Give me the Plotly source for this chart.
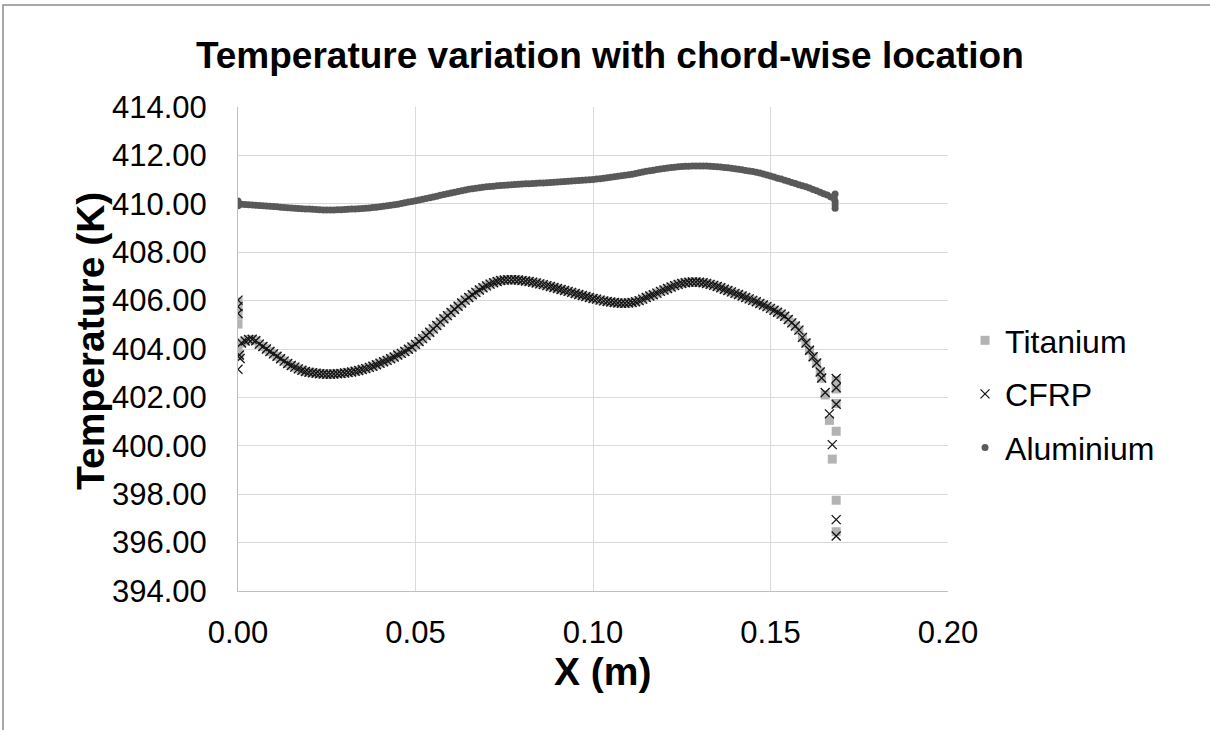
import plotly.graph_objects as go

# ---------------- data ----------------
# chord-wise positions (m)
X_GRID = [
    0.000, 0.001, 0.002, 0.003, 0.004, 0.005, 0.006, 0.007, 0.008, 0.009,
    0.010, 0.011, 0.012, 0.013, 0.014, 0.015, 0.016, 0.017, 0.018, 0.019,
    0.020, 0.021, 0.022, 0.023, 0.024, 0.025, 0.026, 0.027, 0.028, 0.029,
    0.030, 0.031, 0.032, 0.033, 0.034, 0.035, 0.036, 0.037, 0.038, 0.039,
    0.040, 0.041, 0.042, 0.043, 0.044, 0.045, 0.046, 0.047, 0.048, 0.049,
    0.050, 0.051, 0.052, 0.053, 0.054, 0.055, 0.056, 0.057, 0.058, 0.059,
    0.060, 0.061, 0.062, 0.063, 0.064, 0.065, 0.066, 0.067, 0.068, 0.069,
    0.070, 0.071, 0.072, 0.073, 0.074, 0.075, 0.076, 0.077, 0.078, 0.079,
    0.080, 0.081, 0.082, 0.083, 0.084, 0.085, 0.086, 0.087, 0.088, 0.089,
    0.090, 0.091, 0.092, 0.093, 0.094, 0.095, 0.096, 0.097, 0.098, 0.099,
    0.100, 0.101, 0.102, 0.103, 0.104, 0.105, 0.106, 0.107, 0.108, 0.109,
    0.110, 0.111, 0.112, 0.113, 0.114, 0.115, 0.116, 0.117, 0.118, 0.119,
    0.120, 0.121, 0.122, 0.123, 0.124, 0.125, 0.126, 0.127, 0.128, 0.129,
    0.130, 0.131, 0.132, 0.133, 0.134, 0.135, 0.136, 0.137, 0.138, 0.139,
    0.140, 0.141, 0.142, 0.143, 0.144, 0.145, 0.146, 0.147, 0.148, 0.149,
    0.150, 0.151, 0.152, 0.153, 0.154, 0.155, 0.156, 0.157, 0.158, 0.159,
    0.160, 0.161, 0.162, 0.163, 0.164, 0.165, 0.166, 0.167, 0.168,
]

# Titanium and CFRP surface temperatures coincide along the surface (K), x = 0.001 .. 0.164
COMPOSITE_SURFACE_T = [
    404.25, 404.33, 404.39, 404.40, 404.34, 404.20, 404.10, 404.00, 403.90, 403.80,
    403.70, 403.60, 403.50, 403.40, 403.32, 403.25, 403.18, 403.12, 403.07, 403.04,
    403.02, 403.00, 402.98, 402.97, 402.96, 402.96, 402.97, 402.98, 402.99, 403.01,
    403.03, 403.05, 403.08, 403.11, 403.15, 403.19, 403.24, 403.29, 403.35, 403.41,
    403.47, 403.53, 403.60, 403.67, 403.75, 403.82, 403.90, 403.99, 404.08, 404.19,
    404.31, 404.43, 404.56, 404.69, 404.83, 404.97, 405.11, 405.25, 405.38, 405.51,
    405.64, 405.77, 405.90, 406.02, 406.13, 406.24, 406.34, 406.44, 406.53, 406.61,
    406.68, 406.74, 406.79, 406.83, 406.85, 406.86, 406.86, 406.86, 406.85, 406.83,
    406.81, 406.79, 406.76, 406.73, 406.69, 406.66, 406.62, 406.58, 406.54, 406.50,
    406.46, 406.42, 406.38, 406.34, 406.29, 406.25, 406.21, 406.17, 406.13, 406.09,
    406.06, 406.02, 405.99, 405.96, 405.94, 405.92, 405.90, 405.89, 405.89, 405.90,
    405.92, 405.95, 406.00, 406.06, 406.13, 406.19, 406.24, 406.31, 406.38, 406.44,
    406.50, 406.56, 406.62, 406.67, 406.71, 406.74, 406.76, 406.77, 406.77, 406.76,
    406.74, 406.71, 406.67, 406.63, 406.58, 406.53, 406.47, 406.42, 406.36, 406.30,
    406.25, 406.19, 406.13, 406.07, 406.01, 405.95, 405.88, 405.82, 405.75, 405.68,
    405.60, 405.52, 405.44, 405.35, 405.22, 405.08, 404.95, 404.78, 404.48, 404.25,
    403.95, 403.68, 403.42, 403.05,
]

# leading-edge and trailing-edge points
TI_LE_X = [0.000, 0.000, 0.000, 0.000, 0.000, 0.0003]
TI_LE_T = [405.95, 405.70, 405.40, 405.03, 403.96, 403.72]
TI_TE_X = [0.1644, 0.1654, 0.1666, 0.1674, 0.1685, 0.1685, 0.1685, 0.1685, 0.1685, 0.1685]
TI_TE_T = [402.79, 402.10, 401.05, 399.45, 402.70, 402.35, 401.75, 400.60, 397.75, 396.45]

CFRP_LE_X = [0.000, 0.000, 0.000, 0.0004, 0.0006, 0.000]
CFRP_LE_T = [406.02, 405.75, 405.47, 403.75, 403.61, 403.16]
CFRP_TE_X = [0.1644, 0.1654, 0.1666, 0.1674, 0.1685, 0.1685, 0.1685, 0.1685, 0.1685]
CFRP_TE_T = [402.80, 402.20, 401.32, 400.05, 402.78, 402.40, 401.72, 396.95, 396.27]

# Aluminium surface temperatures (K), x = 0.000 .. 0.168
ALU_SURFACE_T = [
    410.00, 409.98, 409.97, 409.96, 409.95, 409.94, 409.93, 409.92, 409.91, 409.90,
    409.89, 409.88, 409.86, 409.85, 409.84, 409.83, 409.82, 409.81, 409.80, 409.79,
    409.78, 409.77, 409.76, 409.75, 409.74, 409.74, 409.74, 409.74, 409.75, 409.75,
    409.76, 409.77, 409.78, 409.79, 409.80, 409.81, 409.82, 409.83, 409.85, 409.86,
    409.88, 409.90, 409.92, 409.94, 409.96, 409.98, 410.01, 410.04, 410.07, 410.10,
    410.13, 410.16, 410.19, 410.22, 410.25, 410.28, 410.31, 410.35, 410.38, 410.42,
    410.45, 410.48, 410.51, 410.54, 410.57, 410.60, 410.62, 410.64, 410.66, 410.68,
    410.70, 410.72, 410.73, 410.75, 410.76, 410.77, 410.78, 410.79, 410.80, 410.81,
    410.82, 410.83, 410.83, 410.84, 410.85, 410.86, 410.86, 410.87, 410.88, 410.89,
    410.90, 410.91, 410.92, 410.93, 410.94, 410.95, 410.96, 410.97, 410.98, 410.99,
    411.00, 411.02, 411.04, 411.06, 411.08, 411.10, 411.12, 411.14, 411.16, 411.18,
    411.20, 411.22, 411.25, 411.28, 411.31, 411.34, 411.37, 411.39, 411.42, 411.44,
    411.46, 411.48, 411.50, 411.51, 411.53, 411.54, 411.55, 411.55, 411.56, 411.56,
    411.56, 411.56, 411.56, 411.55, 411.54, 411.53, 411.52, 411.50, 411.49, 411.47,
    411.45, 411.43, 411.41, 411.38, 411.36, 411.33, 411.30, 411.27, 411.23, 411.19,
    411.15, 411.11, 411.06, 411.02, 410.97, 410.93, 410.88, 410.84, 410.79, 410.75,
    410.70, 410.65, 410.59, 410.54, 410.48, 410.42, 410.36, 410.28, 410.20,
]
ALU_EDGE_X = [0.000, 0.000, 0.1682, 0.1682, 0.1682, 0.1682]
ALU_EDGE_T = [410.12, 409.92, 410.40, 410.10, 409.95, 409.82]

SERIES_NAMES = ["Titanium", "CFRP", "Aluminium"]
Y_TICKS = [394, 396, 398, 400, 402, 404, 406, 408, 410, 412, 414]
X_TICKS = [0.00, 0.05, 0.10, 0.15, 0.20]

# ---------------- assemble series ----------------
comp_x = X_GRID[1:1 + len(COMPOSITE_SURFACE_T)]
ti_x = TI_LE_X + comp_x + TI_TE_X
ti_t = TI_LE_T + COMPOSITE_SURFACE_T + TI_TE_T
cf_x = CFRP_LE_X + comp_x + CFRP_TE_X
cf_t = CFRP_LE_T + COMPOSITE_SURFACE_T + CFRP_TE_T
al_x = X_GRID[:len(ALU_SURFACE_T)] + ALU_EDGE_X
al_t = ALU_SURFACE_T + ALU_EDGE_T

FONT = "Liberation Sans, Arial, sans-serif"

fig = go.Figure()
fig.add_trace(go.Scatter(
    x=ti_x, y=ti_t, mode="markers", name=SERIES_NAMES[0], legendgroup="a",
    marker=dict(symbol="square", size=9, color="#b3b3b3", line=dict(width=0)),
))
fig.add_trace(go.Scatter(
    x=cf_x, y=cf_t, mode="markers", name=SERIES_NAMES[1], legendgroup="b",
    marker=dict(symbol="x-thin", size=9, color="#141414",
                line=dict(width=1.3, color="#141414")),
))
fig.add_trace(go.Scatter(
    x=al_x, y=al_t, mode="markers", name=SERIES_NAMES[2], legendgroup="c",
    marker=dict(symbol="circle", size=7, color="#595959", line=dict(width=0)),
))

fig.update_layout(
    width=1210, height=730,
    paper_bgcolor="white", plot_bgcolor="white",
    margin=dict(l=238, r=262, t=107, b=139),
    font=dict(family=FONT, color="#000000", size=31),
    title=dict(
        text="<b>Temperature variation with chord-wise location</b>",
        x=0.504, xanchor="center", y=0.925, yanchor="middle",
        font=dict(family=FONT, size=37, color="#000000"),
    ),
    legend=dict(
        x=1.024, xanchor="left", y=0.407, yanchor="middle",
        font=dict(family=FONT, size=32, color="#000000"),
        tracegroupgap=9, bgcolor="rgba(0,0,0,0)", itemwidth=30,
    ),
    showlegend=True,
    annotations=[
        dict(text="<b>X (m)</b>", xref="paper", yref="paper",
             x=0.514, y=-0.167, xanchor="center", yanchor="middle",
             showarrow=False, font=dict(family=FONT, size=39, color="#000000")),
        dict(text="<b>Temperature (K)</b>", xref="paper", yref="paper",
             x=-0.2085, y=0.5165, xanchor="center", yanchor="middle",
             textangle=-90, showarrow=False,
             font=dict(family=FONT, size=39, color="#000000")),
    ],
)

fig.update_xaxes(
    range=[0, 0.20], tickvals=X_TICKS, ticktext=[f"{v:.2f}" for v in X_TICKS],
    showgrid=True, gridcolor="#d9d9d9", gridwidth=1,
    showline=True, linecolor="#bfbfbf", linewidth=1,
    zeroline=False, ticks="", ticklabelstandoff=14,
    tickfont=dict(family=FONT, size=31, color="#000000"),
)
fig.update_yaxes(
    range=[394, 414], tickvals=Y_TICKS, ticktext=[f"{v:.2f}" for v in Y_TICKS],
    showgrid=True, gridcolor="#d9d9d9", gridwidth=1,
    showline=True, linecolor="#bfbfbf", linewidth=1,
    zeroline=False, ticks="", ticklabelstandoff=24,
    tickfont=dict(family=FONT, size=31, color="#000000"),
)

# outer chart frame (cropped at the right and bottom in the reference)
fig.add_shape(type="rect", xref="paper", yref="paper",
              x0=-0.331, x1=1.40, y0=-0.32, y1=1.2107,
              line=dict(color="#8c8c8c", width=1.5), fillcolor="rgba(0,0,0,0)",
              layer="below")

# place the figure at the page origin (no default body margin, no scrollbars)
fig.write_html(
    "out.html",
    config={"displayModeBar": False},
    post_script="document.body.style.margin='0';document.body.style.overflow='hidden';",
)
